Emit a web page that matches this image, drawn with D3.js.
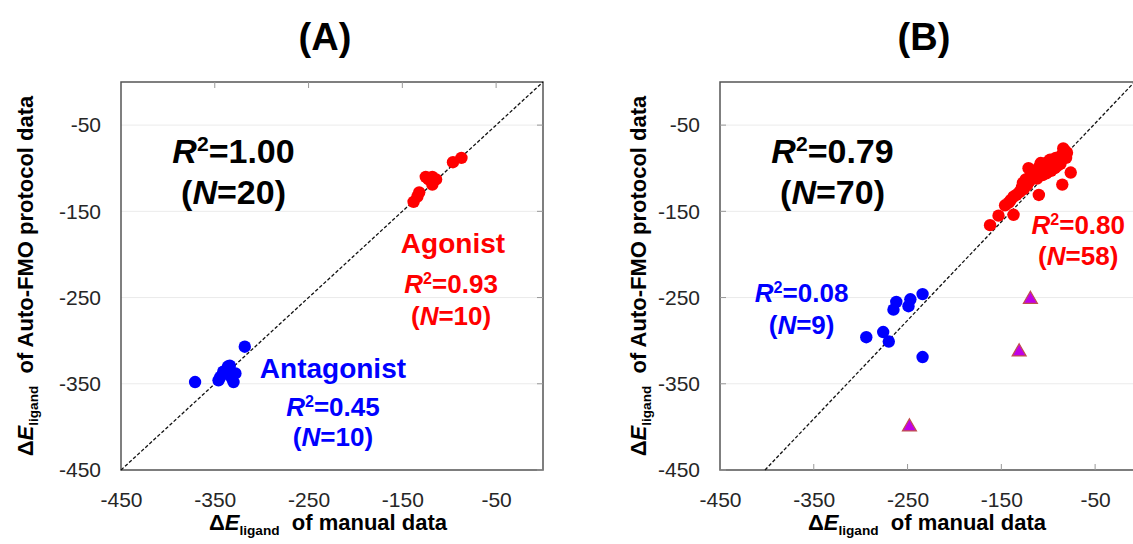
<!DOCTYPE html>
<html lang="en">

<head>
    <meta charset="utf-8">
    <title>Auto-FMO vs manual ligand energies</title>
    <script src="https://d3js.org/d3.v7.min.js"></script>
    <style>
        body { margin: 0; background: #fff; }
        svg { display: block; font-family: "Liberation Sans", Arial, sans-serif; }
    </style>
</head>

<body>
    <div id="chart"></div>
    <script>
        // Data
        const ticks = [-450, -350, -250, -150, -50];

        // Panel A
        const agonistA = [
            [-87, -88], [-96, -93], [-125, -110], [-118, -110], [-118, -119],
            [-122, -113], [-138, -139], [-134, -133], [-132, -128], [-114, -113]
        ];
        const antagonistA = [
            [-318, -307], [-371, -348], [-346, -346], [-330, -348], [-336, -330],
            [-341, -336], [-328, -338], [-334, -329], [-344, -342], [-332, -343]
        ];
        const fitA = [[-450, -450], [0, 0]];

        // Panel B
        const agonistB = [
            [-162, -166], [-153, -155], [-137, -154], [-146, -143], [-142, -140],
            [-137, -133], [-134, -131], [-131, -128], [-128, -122], [-126, -124],
            [-124, -113], [-122, -118], [-120, -115], [-118, -111], [-116, -110],
            [-121, -100], [-118, -104], [-110, -131], [-113, -108], [-111, -105],
            [-108, -94], [-108, -102], [-106, -108], [-105, -102], [-103, -98],
            [-102, -106], [-100, -100], [-99, -95], [-97, -103], [-96, -93],
            [-95, -98], [-93, -100], [-91, -94], [-90, -97], [-89, -91],
            [-88, -88], [-87, -95], [-86, -85], [-85, -119], [-84, -84],
            [-84, -77], [-82, -80], [-80, -82], [-81, -88], [-76, -105],
            [-112, -112], [-115, -106], [-119, -109], [-104, -96], [-98, -90],
            [-92, -88], [-129, -126], [-123, -120], [-110, -99], [-101, -93],
            [-94, -91], [-140, -137], [-127, -117]
        ];
        const antagonistB = [
            [-234, -246], [-247, -252], [-249, -260], [-262, -255], [-265, -264],
            [-276, -290], [-294, -296], [-270, -301], [-234, -319]
        ];
        const outliersB = [[-119, -252], [-131, -313], [-248, -400]];
        const fitB = [[-402, -450], [-8, 0]];

        // Dimensions
        const width = 1133;
        const height = 544;
        const plotTop = 82;
        const plotBottom = 470;
        const plotW = 422;

        const svg = d3.select("#chart")
            .append("svg")
            .attr("width", width)
            .attr("height", height);

        const y = d3.scaleLinear().domain([-450, 0]).range([plotBottom, plotTop]);

        // Text with italic / superscript / subscript parts
        function rich(g, x0, y0, size, color, parts, anchor = "middle") {
            const t = g.append("text")
                .attr("x", x0)
                .attr("y", y0)
                .attr("text-anchor", anchor)
                .attr("font-size", size)
                .attr("font-weight", "bold")
                .attr("fill", color);
            let shift = 0;
            parts.forEach(p => {
                const s = t.append("tspan").text(p.t);
                if (p.i) s.attr("font-style", "italic");
                let target = 0;
                if (p.sup) { s.attr("font-size", size * 0.62); target = -size * 0.36; }
                if (p.sub) { s.attr("font-size", size * 0.62); target = size * 0.22; }
                if (target !== shift) { s.attr("dy", target - shift); shift = target; }
            });
            return t;
        }

        const r2 = v => [{ t: "R", i: true }, { t: "2", sup: true }, { t: "=" + v }];
        const nn = v => [{ t: "(" }, { t: "N", i: true }, { t: "=" + v + ")" }];
        const dE = [{ t: "Δ" }, { t: "E", i: true }, { t: "ligand", sub: true }];

        function panel(left, cfg) {
            const x = d3.scaleLinear().domain([-450, 0]).range([left, left + plotW]);
            const g = svg.append("g");

            // gridlines
            g.selectAll(".grid")
                .data(ticks)
                .join("line")
                .attr("x1", left)
                .attr("x2", left + plotW)
                .attr("y1", d => y(d))
                .attr("y2", d => y(d))
                .attr("stroke", "#ebebeb")
                .attr("stroke-width", 1);

            // frame
            g.append("rect")
                .attr("x", left)
                .attr("y", plotTop)
                .attr("width", plotW)
                .attr("height", plotBottom - plotTop)
                .attr("fill", "none")
                .attr("stroke", "#555")
                .attr("stroke-width", 1.5);

            // inward tick marks
            const xTickY = cfg.xTicksTop ? plotTop : plotBottom;
            const xDir = cfg.xTicksTop ? 1 : -1;
            g.selectAll(".xt")
                .data(ticks.slice(1))
                .join("line")
                .attr("x1", d => x(d)).attr("x2", d => x(d))
                .attr("y1", xTickY).attr("y2", xTickY + 6 * xDir)
                .attr("stroke", "#999");
            const yTickX = cfg.yTicksRight ? left + plotW : left;
            const yDir = cfg.yTicksRight ? -1 : 1;
            g.selectAll(".yt")
                .data(ticks)
                .join("line")
                .attr("x1", yTickX).attr("x2", yTickX + 6 * yDir)
                .attr("y1", d => y(d)).attr("y2", d => y(d))
                .attr("stroke", "#999");

            // tick labels through d3 axes (plain hyphen minus)
            const fmt = d => String(d);
            const xAxis = g.append("g")
                .attr("transform", `translate(0,${plotBottom})`)
                .call(d3.axisBottom(x).tickValues(ticks).tickSize(0).tickPadding(22).tickFormat(fmt));
            const yAxis = g.append("g")
                .attr("transform", `translate(${left},0)`)
                .call(d3.axisLeft(y).tickValues(ticks).tickSize(0).tickPadding(20).tickFormat(fmt));
            [xAxis, yAxis].forEach(a => {
                a.select(".domain").remove();
                a.selectAll("text")
                    .attr("font-size", 21)
                    .attr("font-family", "'Liberation Sans', Arial, sans-serif")
                    .attr("fill", "#262626");
            });

            // fit line
            g.append("line")
                .attr("x1", x(cfg.fit[0][0])).attr("y1", y(cfg.fit[0][1]))
                .attr("x2", x(cfg.fit[1][0])).attr("y2", y(cfg.fit[1][1]))
                .attr("stroke", "#111")
                .attr("stroke-width", 1.3)
                .attr("stroke-dasharray", "3.5,2");

            // points
            g.selectAll(".red")
                .data(cfg.red)
                .join("circle")
                .attr("cx", d => x(d[0]))
                .attr("cy", d => y(d[1]))
                .attr("r", 6.2)
                .attr("fill", "#ff0000");
            g.selectAll(".blue")
                .data(cfg.blue)
                .join("circle")
                .attr("cx", d => x(d[0]))
                .attr("cy", d => y(d[1]))
                .attr("r", 6.2)
                .attr("fill", "#0000ff");
            if (cfg.tri) {
                g.selectAll(".tri")
                    .data(cfg.tri)
                    .join("path")
                    .attr("transform", d => `translate(${x(d[0])},${y(d[1])})`)
                    .attr("d", d3.symbol(d3.symbolTriangle).size(85))
                    .attr("fill", "#c000e8")
                    .attr("stroke", "#c0504d")
                    .attr("stroke-width", 1.2);
            }

            // axis titles
            const cx = left + plotW / 2 - 4;
            rich(g, cx, 530, 22, "#000", dE.concat([{ t: "\u00a0 of manual data" }]));
            const cy = (plotTop + plotBottom) / 2;
            rich(g, 0, 0, 22, "#000", dE.concat([{ t: "\u00a0 of Auto-FMO protocol data" }]))
                .attr("transform", `translate(${left - cfg.yLabelOffset},${cy}) rotate(-90)`);

            // panel letter
            g.append("text")
                .attr("x", left + 204)
                .attr("y", 50)
                .attr("text-anchor", "middle")
                .attr("font-size", 38)
                .attr("font-weight", "bold")
                .text(cfg.letter);

            return { g, x };
        }

        // Panel A
        const A = panel(121, {
            letter: "(A)", xTicksTop: true, yTicksRight: true, yLabelOffset: 88,
            fit: fitA, red: agonistA, blue: antagonistA
        });
        rich(A.g, A.x(-330), 163, 34, "#000", r2("1.00"));
        rich(A.g, A.x(-330), 204, 34, "#000", nn("20"));
        rich(A.g, A.x(-96), 253, 28, "#ff0000", [{ t: "Agonist" }]);
        rich(A.g, A.x(-98), 293, 26, "#ff0000", r2("0.93"));
        rich(A.g, A.x(-98), 325, 26, "#ff0000", nn("10"));
        rich(A.g, A.x(-224), 378, 28, "#0000ff", [{ t: "Antagonist" }]);
        rich(A.g, A.x(-224), 416, 26, "#0000ff", r2("0.45"));
        rich(A.g, A.x(-224), 446, 26, "#0000ff", nn("10"));

        // Panel B
        const B = panel(720, {
            letter: "(B)", xTicksTop: false, yTicksRight: false, yLabelOffset: 74,
            fit: fitB, red: agonistB, blue: antagonistB, tri: outliersB
        });
        rich(B.g, B.x(-330), 163, 34, "#000", r2("0.79"));
        rich(B.g, B.x(-330), 204, 34, "#000", nn("70"));
        rich(B.g, B.x(-68), 234, 26, "#ff0000", r2("0.80"));
        rich(B.g, B.x(-68), 265, 26, "#ff0000", nn("58"));
        rich(B.g, B.x(-363), 302, 26, "#0000ff", r2("0.08"));
        rich(B.g, B.x(-363), 334, 26, "#0000ff", nn("9"));
    </script>
</body>

</html>
